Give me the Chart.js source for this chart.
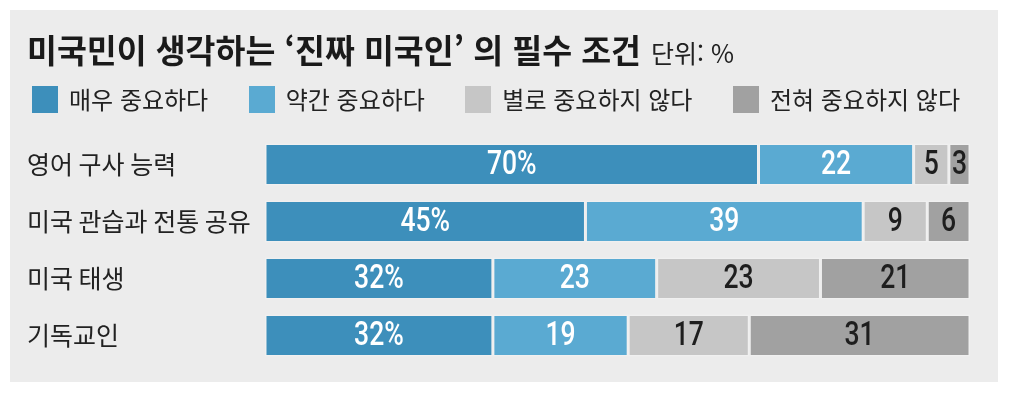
<!DOCTYPE html>
<html lang="ko">
<head>
<meta charset="utf-8">
<script src="https://cdn.jsdelivr.net/npm/chart.js@4/dist/chart.umd.min.js"></script>
<style>
  body { margin: 0; background: #fff; font-family: 'Noto Sans CJK KR', sans-serif; }
  #panel { position: absolute; left: 10px; top: 10px; width: 988px; height: 372px; background: #ececec; }
  #chart { position: absolute; left: 0; top: 0; }
  #title { position: absolute; left: 17px; top: 21px; font-size: 32.5px; font-weight: 700; color: #1a1a1a; line-height: 36px; white-space: nowrap; }
  #title span { font-size: 25px; font-weight: 400; margin-left: 10px; color: #222; }
  #legend { position: absolute; left: 22px; top: 75px; width: 928px; display: flex; justify-content: space-between; align-items: center; font-size: 24px; color: #222; line-height: 28px; }
  #legend .item { display: flex; align-items: center; white-space: nowrap; }
  #legend .box { width: 26px; height: 27px; margin-right: 11px; }
</style>
</head>
<body>
<div id="panel">
  <canvas id="chart" width="988" height="372"></canvas>
  <div id="title">미국민이 생각하는 ‘진짜 미국인’ 의 필수 조건<span>단위: %</span></div>
  <div id="legend"></div>
</div>
<script>
const categories = ['영어 구사 능력', '미국 관습과 전통 공유', '미국 태생', '기독교인'];
const seriesNames = ['매우 중요하다', '약간 중요하다', '별로 중요하지 않다', '전혀 중요하지 않다'];
const veryImportant = [70, 45, 32, 32];
const somewhatImportant = [22, 39, 23, 19];
const notVeryImportant = [5, 9, 23, 17];
const notAtAll = [3, 6, 21, 31];
const seriesColors = ['#3d8fbb', '#5aaad2', '#c6c6c6', '#a1a1a1'];
const labelColors = ['#fff', '#fff', '#1e1e1e', '#1e1e1e'];

const series = [veryImportant, somewhatImportant, notVeryImportant, notAtAll];

// each row is stretched to the full width, like the printed graphic
const rowTotals = categories.map((c, r) => series.reduce((sum, s) => sum + s[r], 0));

const legend = document.getElementById('legend');
seriesNames.forEach((name, i) => {
  const item = document.createElement('div');
  item.className = 'item';
  item.innerHTML = `<div class="box" style="background:${seriesColors[i]}"></div>${name}`;
  legend.appendChild(item);
});

const valueLabels = {
  id: 'valueLabels',
  afterDatasetsDraw(chart) {
    const ctx = chart.ctx;
    chart.data.datasets.forEach((ds, i) => {
      chart.getDatasetMeta(i).data.forEach((bar, j) => {
        const { x, y, base } = bar.getProps(['x', 'y', 'base'], true);
        const text = i === 0 ? series[i][j] + '%' : String(series[i][j]);
        ctx.save();
        ctx.translate((x + base) / 2, y + 1);
        ctx.scale(0.78, 1);
        ctx.font = '500 34px Roboto, "Liberation Sans", sans-serif';
        ctx.fillStyle = labelColors[i];
        ctx.textAlign = 'center';
        ctx.textBaseline = 'middle';
        ctx.fillText(text, 0, 0);
        ctx.restore();
      });
    });
  }
};

new Chart(document.getElementById('chart'), {
  type: 'bar',
  data: {
    labels: categories,
    datasets: series.map((s, i) => ({
      label: seriesNames[i],
      data: s.map((v, r) => v / rowTotals[r] * 100),
      backgroundColor: seriesColors[i],
      borderColor: '#f0f0f0',
      borderWidth: 1.5,
      borderSkipped: false,
      barPercentage: 0.74,
      categoryPercentage: 1
    }))
  },
  options: {
    indexAxis: 'y',
    responsive: false,
    animation: false,
    devicePixelRatio: 1,
    layout: { padding: { left: 17, right: 28, top: 126, bottom: 8 } },
    plugins: {
      legend: { display: false },
      title: { display: false },
      tooltip: { enabled: false }
    },
    scales: {
      x: { stacked: true, min: 0, max: 100, display: false },
      y: {
        stacked: true,
        grid: { display: false },
        border: { display: false },
        afterFit(scale) { scale.width = 238; },
        ticks: {
          crossAlign: 'far',
          color: '#222',
          font: { family: "'Noto Sans CJK KR', sans-serif", size: 25 }
        }
      }
    }
  },
  plugins: [valueLabels]
});
</script>
</body>
</html>
